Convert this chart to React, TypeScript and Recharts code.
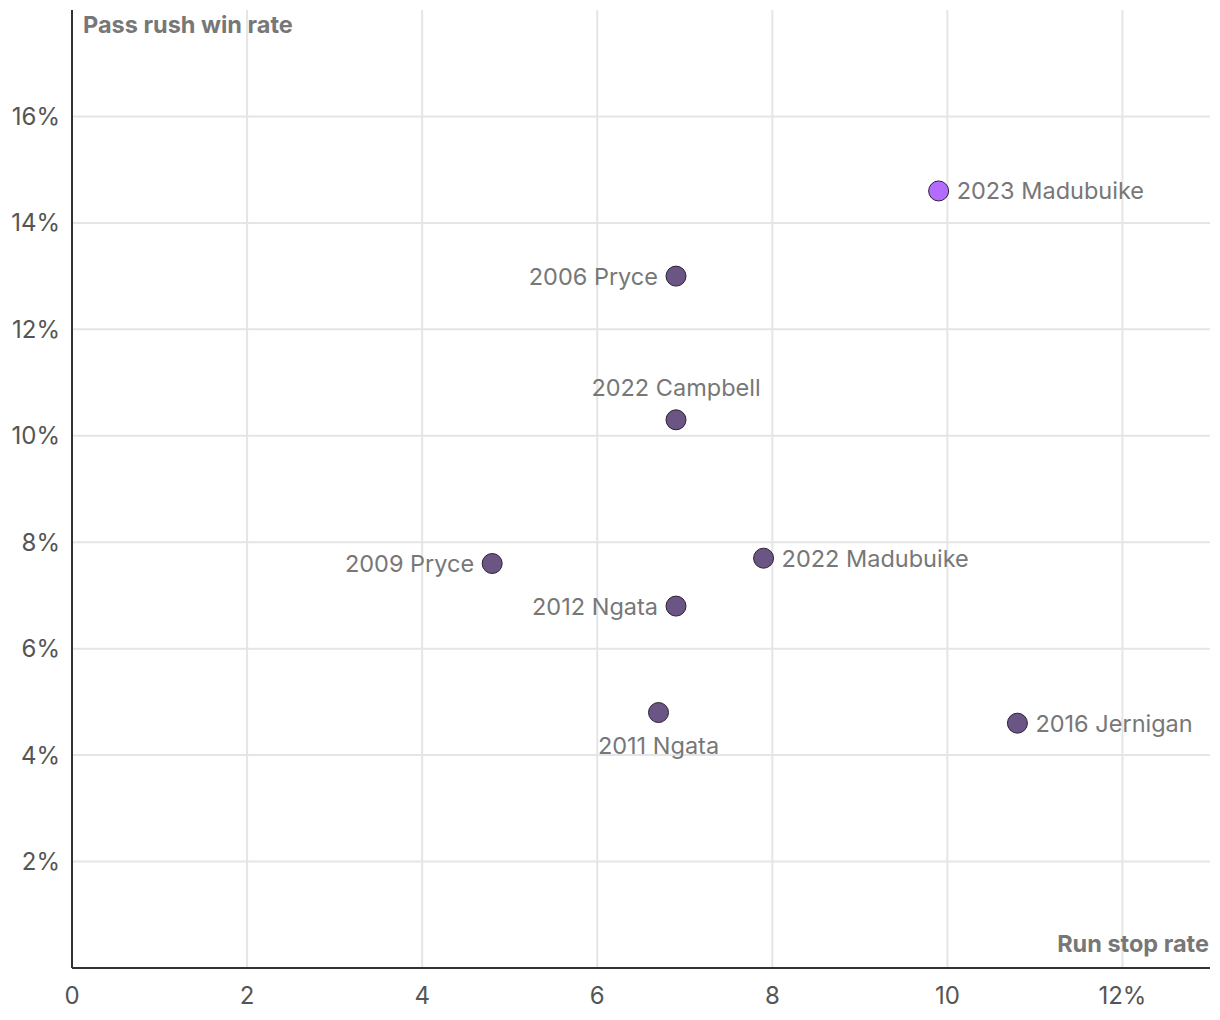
import React from "react";
import { ScatterChart, Scatter, XAxis, YAxis, CartesianGrid } from "recharts";

const players = ["2023 Madubuike", "2006 Pryce", "2022 Campbell", "2009 Pryce", "2022 Madubuike", "2012 Ngata", "2011 Ngata", "2016 Jernigan"];
const runStop = [9.9, 6.9, 6.9, 4.8, 7.9, 6.9, 6.7, 10.8];
const passRush = [14.6, 13.0, 10.3, 7.6, 7.7, 6.8, 4.8, 4.6];
const highlighted = [true, false, false, false, false, false, false, false];
const labelSide = ["right", "left", "top", "left", "right", "left", "bottom", "right"];
const xTicks = [0, 2, 4, 6, 8, 10, 12];
const yTicks = [2, 4, 6, 8, 10, 12, 14, 16];

const data = players.map((name, i) => ({
  name,
  x: runStop[i],
  y: passRush[i],
  hi: highlighted[i],
  side: labelSide[i],
}));

const FONT = "Inter, sans-serif";

const Dot = (props: any) => {
  const { cx, cy, payload } = props;
  const side = payload.side;
  let tx = cx, ty = cy, anchor: any = "middle";
  if (side === "right") { tx = cx + 18; anchor = "start"; }
  if (side === "left") { tx = cx - 18; anchor = "end"; }
  if (side === "top") { ty = cy - 32; }
  if (side === "bottom") { ty = cy + 33; }
  return (
    <g>
      <circle cx={cx} cy={cy} r={10} fill={payload.hi ? "#b36cff" : "#6b5585"} stroke="#2a2233" strokeWidth={1} />
      <text x={tx} y={ty} dy="0.36em" textAnchor={anchor} fontSize={23.5} fill="#777" fontFamily={FONT}>
        {payload.name}
      </text>
    </g>
  );
};

export default function App() {
  return (
    <div style={{ position: "absolute", left: 0, top: 0, width: 1220, height: 1020, background: "#fff" }}>
      <ScatterChart width={1220} height={1020} margin={{ top: 10, right: 10, bottom: 0, left: 0 }}>
        <CartesianGrid stroke="#e5e5e5" strokeWidth={2} horizontalValues={yTicks} verticalValues={xTicks} />
        <XAxis
          type="number"
          dataKey="x"
          domain={[0, 13]}
          ticks={xTicks}
          tickFormatter={(v: number) => (v === 12 ? "12%" : String(v))}
          axisLine={{ stroke: "#333", strokeWidth: 2 }}
          tickLine={false}
          height={52}
          tickMargin={13}
          tick={{ fontSize: 24, fill: "#555", fontFamily: FONT }}
        />
        <YAxis
          type="number"
          dataKey="y"
          domain={[0, 18]}
          ticks={yTicks}
          tickFormatter={(v: number) => `${v}%`}
          axisLine={{ stroke: "#333", strokeWidth: 2 }}
          tickLine={false}
          width={72}
          tickMargin={6}
          tick={{ fontSize: 24, fill: "#555", fontFamily: FONT }}
        />
        <Scatter data={data} shape={Dot} isAnimationActive={false} />
      </ScatterChart>
      <div style={{ position: "absolute", left: 83, top: 10, fontFamily: FONT, fontWeight: 700, fontSize: 23.5, color: "#777" }}>
        Pass rush win rate
      </div>
      <div style={{ position: "absolute", right: 11, top: 929, fontFamily: FONT, fontWeight: 700, fontSize: 23.5, color: "#777" }}>
        Run stop rate
      </div>
    </div>
  );
}
